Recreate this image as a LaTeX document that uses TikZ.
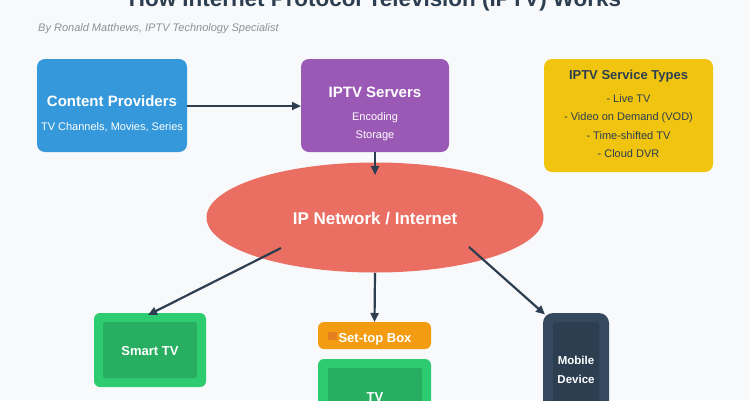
\documentclass[tikz,border=0pt]{standalone}
\usepackage{fontspec}
\setmainfont{Liberation Sans}
\usetikzlibrary{arrows.meta,shapes.geometric}
\definecolor{bg}{HTML}{F8F9FB}
\definecolor{dark}{HTML}{2C3E50}
\definecolor{subgray}{HTML}{8A9396}
\definecolor{cpblue}{HTML}{3498DB}
\definecolor{srvpurple}{HTML}{9B59B6}
\definecolor{svcyellow}{HTML}{F1C40F}
\definecolor{netred}{HTML}{EA6E62}
\definecolor{tvgreen}{HTML}{2ECC71}
\definecolor{tvgreeninner}{HTML}{27AE60}
\definecolor{stborange}{HTML}{F39C12}
\definecolor{stbmark}{HTML}{E67E22}
\definecolor{mobdark}{HTML}{34495E}
\definecolor{mobinner}{HTML}{2C3E50}
\newcommand\setfs[1]{\fontsize{#1}{#1}\selectfont}
\begin{document}
\begin{tikzpicture}[x=1pt,y=-1pt,
  box/.style={draw=none, inner sep=0pt, outer sep=0pt, anchor=north west},
  conn/.style={draw=dark, line width=2.2pt, -{Triangle[length=9pt,width=8pt]}},
  boxtitle/.style={anchor=base, inner sep=0pt, text=white, font=\bfseries\setfs{15}},
  boxsub/.style={anchor=base, inner sep=0pt, text=white, font=\setfs{11}},
  svcitem/.style={anchor=base, inner sep=0pt, text=dark, font=\setfs{11}},
  devlabel/.style={anchor=base, inner sep=0pt, text=white, font=\bfseries\setfs{13}}
]
\useasboundingbox (0,0) rectangle (750,400);
\fill[bg] (0,0) rectangle (750,400);

% title and subtitle
\node[anchor=base, inner sep=0pt, text=dark, font=\bfseries\setfs{22.4}] (title) at (375,6) {How Internet Protocol Television (IPTV) Works};
\node[anchor=base west, inner sep=0pt, text=subgray, font=\itshape\setfs{11}] (byline) at (38,31) {By Ronald Matthews, IPTV Technology Specialist};

% content providers
\node[box, fill=cpblue, rounded corners=8pt, minimum width=150pt, minimum height=93pt] (cp) at (37,59) {};
\node[boxtitle] (cpt) at (112,106.5) {Content Providers};
\node[boxsub] (cps) at (112,130) {TV Channels, Movies, Series};

% IPTV servers
\node[box, fill=srvpurple, rounded corners=8pt, minimum width=148pt, minimum height=93pt] (srv) at (301,59) {};
\node[boxtitle] (srvt) at (375,97.5) {IPTV Servers};
\node[boxsub] (srv1) at (375,120) {Encoding};
\node[boxsub] (srv2) at (375,138.5) {Storage};

% service types
\node[box, fill=svcyellow, rounded corners=8pt, minimum width=169pt, minimum height=113pt] (svc) at (544,59) {};
\node[anchor=base, inner sep=0pt, text=dark, font=\bfseries\setfs{13}] (svct) at (628.5,79.5) {IPTV Service Types};
\node[svcitem] (svc1) at (628.5,102) {- Live TV};
\node[svcitem] (svc2) at (628.5,120.5) {- Video on Demand (VOD)};
\node[svcitem] (svc3) at (628.5,139) {- Time-shifted TV};
\node[svcitem] (svc4) at (628.5,157.5) {- Cloud DVR};

% network ellipse
\node[ellipse, fill=netred, draw=none, inner sep=0pt, minimum width=337pt, minimum height=110pt] (net) at (375,217.5) {};
\node[anchor=base, inner sep=0pt, text=white, font=\bfseries\setfs{17}] (nett) at (375,224) {IP Network / Internet};

% smart TV
\node[box, fill=tvgreen, rounded corners=6pt, minimum width=112pt, minimum height=74pt] (stv) at (94,313) {};
\node[box, fill=tvgreeninner, rounded corners=2pt, minimum width=94pt, minimum height=56pt] (stvin) at (103,322) {};
\node[devlabel] (stvt) at (150,355) {Smart TV};

% set-top box
\node[box, fill=stborange, rounded corners=6pt, minimum width=113pt, minimum height=27pt] (stb) at (318,322) {};
\node[box, fill=stbmark, minimum width=9pt, minimum height=8pt] (stbm) at (328,332) {};
\node[devlabel] (stbt) at (375,342) {Set-top Box};

% TV
\node[box, fill=tvgreen, rounded corners=6pt, minimum width=113pt, minimum height=70pt] (tv) at (318,359) {};
\node[box, fill=tvgreeninner, rounded corners=2pt, minimum width=94pt, minimum height=50pt] (tvin) at (328,368) {};
\node[devlabel] (tvt) at (375,401.5) {TV};

% mobile device
\node[box, fill=mobdark, rounded corners=10pt, minimum width=66pt, minimum height=110pt] (mob) at (543,313) {};
\node[box, fill=mobinner, rounded corners=3pt, minimum width=46pt, minimum height=90pt] (mobin) at (553,322) {};
\node[devlabel, font=\bfseries\setfs{11.5}] (mob1) at (576,364) {Mobile};
\node[devlabel, font=\bfseries\setfs{11.5}] (mob2) at (576,383) {Device};

% connector points
\coordinate (srvIn) at (301,106);
\coordinate (cpOut) at (187,106);
\coordinate (netTop) at (375,175);
\coordinate (netL) at (281,248);
\coordinate (netR) at (469,247);
\coordinate (netB) at (375,273);
\coordinate (stvTip) at (148,315);
\coordinate (mobTip) at (545,314.5);

% connectors
\draw[conn] (cpOut) -- (srvIn);
\draw[conn] (srv.south) -- (netTop);
\draw[conn] (netL) -- (stvTip);
\draw[conn] (netB) -- (stb.north);
\draw[conn] (netR) -- (mobTip);
\end{tikzpicture}
\end{document}
